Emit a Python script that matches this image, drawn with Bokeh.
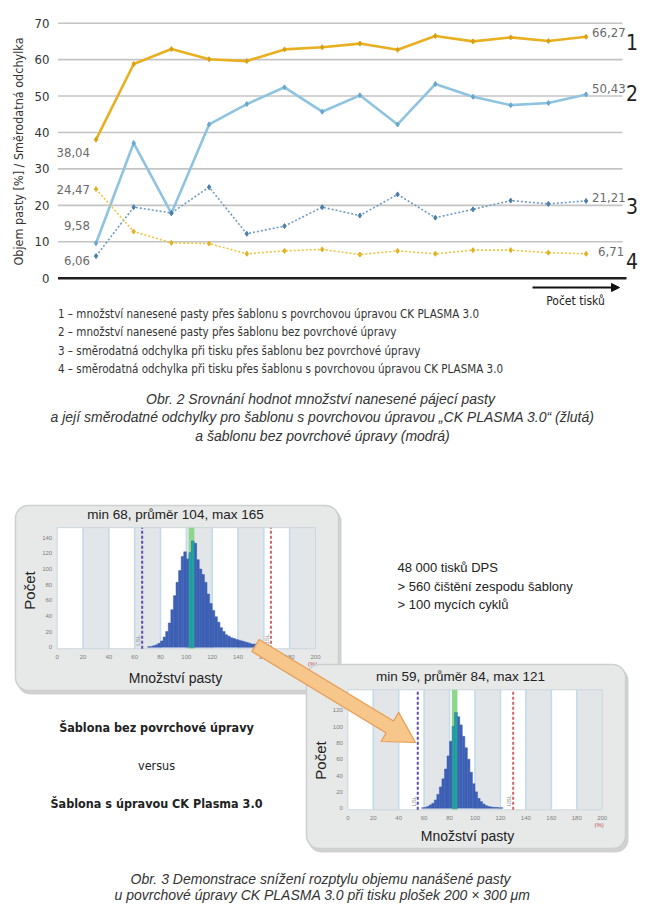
import math
from bokeh.plotting import figure
from bokeh.models import Range1d, Arrow, NormalHead
from bokeh.core.properties import value
from bokeh.embed import file_html
from bokeh.resources import INLINE

# ---------------- data ----------------
prints = list(range(14))
s1_plasma_volume = [38.04, 58.8, 62.9, 60.1, 59.6, 62.8, 63.4, 64.4, 62.7, 66.5, 65.0, 66.1, 65.1, 66.27]
s2_plain_volume = [9.58, 37.1, 17.8, 42.2, 47.8, 52.4, 45.7, 50.2, 42.2, 53.3, 49.8, 47.5, 48.1, 50.43]
s3_plain_std = [6.06, 19.5, 17.9, 25.0, 12.2, 14.3, 19.5, 17.2, 23.0, 16.6, 18.9, 21.3, 20.4, 21.21]
s4_plasma_std = [24.47, 12.8, 9.7, 9.5, 6.7, 7.5, 7.9, 6.5, 7.5, 6.7, 7.7, 7.7, 7.0, 6.71]
y_ticks = [0, 10, 20, 30, 40, 50, 60, 70]
series_numbers = ["1", "2", "3", "4"]
y_axis_title = "Objem pasty [%] / Směrodatná odchylka"
x_axis_title = "Počet tisků"

legend_lines = [
    "1 – množství nanesené pasty přes šablonu s povrchovou úpravou CK PLASMA 3.0",
    "2 – množství nanesené pasty přes šablonu bez povrchové úpravy",
    "3 – směrodatná odchylka při tisku přes šablonu bez povrchové úpravy",
    "4 – směrodatná odchylka při tisku přes šablonu s povrchovou úpravou CK PLASMA 3.0",
]
caption2 = [
    "Obr. 2  Srovnání hodnot množství nanesené pájecí pasty",
    "a její směrodatné odchylky pro šablonu s povrchovou úpravou „CK PLASMA 3.0“ (žlutá)",
    "a šablonu bez povrchové úpravy (modrá)",
]
caption3 = [
    "Obr. 3  Demonstrace snížení rozptylu objemu nanášené pasty",
    "u povrchové úpravy CK PLASMA 3.0 při tisku plošek 200 × 300 μm",
]
info_lines = ["48 000 tisků DPS", "> 560 čištění zespodu šablony", "> 100 mycích cyklů"]
compare_lines = ["Šablona bez povrchové úpravy", "versus", "Šablona s úpravou CK Plasma 3.0"]

# histogram 1 (stencil without treatment): bins of width 2 starting at 70
h1_start = 70
h1_width = 2
h1_counts = [0.5, 1, 2, 3, 5, 8, 13, 20, 31, 48, 66, 83, 98, 116, 122, 113, 121, 136, 133, 112,
             100, 93, 83, 68, 56, 47, 39, 32, 25, 20, 16, 14, 12, 11, 10, 9, 8, 7, 6, 5,
             4, 4, 3, 3, 2, 2, 1, 1]
h1_stats = dict(min=68, mean=104, max=165, lsl=65.8, usl=165.5)
h1_yticks = [0, 20, 40, 60, 80, 100, 120, 140]

# histogram 2 (CK Plasma 3.0): bins of width 2 starting at 58
h2_start = 58
h2_width = 2
h2_counts = [0.5, 1, 2, 4, 6, 10, 17, 26, 36, 48, 64, 82, 100, 117, 112, 102, 88, 74, 60, 44,
             30, 20, 12, 8, 5, 3, 2, 1.5, 1, 1, 0.5, 0.5]
h2_stats = dict(min=59, mean=84, max=121, lsl=55, usl=130)
h2_yticks = [0, 20, 40, 60, 80, 100, 120]
hist_xticks = [0, 20, 40, 60, 80, 100, 120, 140, 160, 180, 200]

# ---------------- styles / layout (picture pixels) ----------------
NARROW = "'DejaVu Sans Condensed', 'Liberation Sans', sans-serif"
SANS = "Liberation Sans"
PAGE_L, PAGE_R, PAGE_T, PAGE_B = 0, 644, 0, 908
X0, DX = 95.5, 37.7          # x of first print, spacing between prints
Y0, DY10 = 277.7, 36.43      # y of value 0, px per 10 units


def fmt(v):
    return f"{v:.2f}".replace(".", ",")


q = figure(width=PAGE_R - PAGE_L, height=PAGE_B - PAGE_T, output_backend="svg", toolbar_location=None,
           x_range=Range1d(PAGE_L, PAGE_R), y_range=Range1d(PAGE_B, PAGE_T),
           x_axis_location=None, y_axis_location=None,
           min_border_left=0, min_border_right=0, min_border_top=0, min_border_bottom=0)
q.outline_line_color = None
q.grid.visible = False
q.background_fill_color = "white"
q.border_fill_color = "white"


def add_range(name, a_page, a_val, b_page, b_val, axis):
    if axis == "x":
        lo, hi = PAGE_L, PAGE_R
    else:
        lo, hi = PAGE_B, PAGE_T
    sc = (b_val - a_val) / (b_page - a_page)
    r = Range1d(a_val + (lo - a_page) * sc, a_val + (hi - a_page) * sc)
    if axis == "x":
        q.extra_x_ranges[name] = r
    else:
        q.extra_y_ranges[name] = r


def txt(x, y, s, size, font=SANS, style="normal", color="#222222", align="left", angle=0.0):
    q.text([x], [y], text=[s], text_font=value(font), text_font_size=size, text_font_style=style,
           text_color=color, text_align=align, text_baseline="middle", angle=angle)


# ---------------- line chart (Obr. 2) ----------------
add_range("cx", X0, 0, X0 + DX, 1, "x")
add_range("cy", Y0, 0, Y0 - DY10, 10, "y")
cyk = dict(y_range_name="cy")
ck = dict(x_range_name="cx", y_range_name="cy")

gy = [t for t in y_ticks if t > 0]
q.segment(x0=[57.5] * len(gy), x1=[622] * len(gy), y0=gy, y1=gy, line_color="#c4c4c4",
          line_width=1.6, **cyk)
q.segment(x0=[57.5], x1=[626], y0=[0], y1=[0], line_color="#1e1e1e", line_width=2.6, **cyk)
q.text([49] * len(y_ticks), y_ticks, text=[str(t) for t in y_ticks], text_font=value(NARROW),
       text_font_size="13px", text_color="#333333", text_align="right", text_baseline="middle", **cyk)
txt(18, 151, y_axis_title, "12.5px", NARROW, color="#333333", align="center", angle=math.pi / 2)

series = [
    (s1_plasma_volume, "#e8b020", "#d9a012", 2.6, "solid"),
    (s2_plain_volume, "#8ec4e0", "#6aa6cc", 2.6, "solid"),
    (s3_plain_std, "#6f9bc2", "#4d7ea8", 1.6, "2 2"),
    (s4_plasma_std, "#f0c43c", "#e2b020", 1.6, "2 2"),
]
for vals, lc, mc, lw, dash in series:
    q.line(prints, vals, line_color=lc, line_width=lw, line_dash=dash, **ck)
    q.scatter(prints, vals, marker="diamond", size=5, fill_color=mc, line_color=mc, **ck)

left_offsets = [(-6, 13), (-6, -18), (-6, 4), (-6, 0)]
right_offsets = [(6, -4), (6, -6), (6, -3), (12, -2)]
number_offsets = [(46, 5), (46, -1), (46, 5), (46, 7)]
for k, (vals, *_rest) in enumerate(series):
    q.text([prints[0]], [vals[0]], text=[fmt(vals[0])], text_font=value(NARROW),
           text_font_size="13px", text_color="#6a6a6a", text_align="right",
           text_baseline="middle", x_offset=left_offsets[k][0], y_offset=left_offsets[k][1], **ck)
    q.text([prints[-1]], [vals[-1]], text=[fmt(vals[-1])], text_font=value(NARROW),
           text_font_size="13px", text_color="#6a6a6a", text_align="left",
           text_baseline="middle", x_offset=right_offsets[k][0], y_offset=right_offsets[k][1], **ck)
    q.text([prints[-1]], [vals[-1]], text=[series_numbers[k]], text_font=value(NARROW),
           text_font_size="21px", text_color="#222222", text_align="center",
           text_baseline="middle", x_offset=number_offsets[k][0], y_offset=number_offsets[k][1], **ck)

q.add_layout(Arrow(x_start=532, y_start=287, x_end=619, y_end=287, line_width=2, line_color="#111111",
                   end=NormalHead(size=8, fill_color="#111111", line_color="#111111")))
txt(575, 300, x_axis_title, "12px", NARROW, color="#222222", align="center")

for i, line in enumerate(legend_lines):
    txt(57.5, 313 + i * 18.5, line, "11.5px", NARROW, color="#333333")

for i, line in enumerate(caption2):
    txt(322, 398 + i * 18.5, line, "14px", SANS, style="italic", color="#333333", align="center")


# ---------------- histograms (Obr. 3) ----------------
def panel(l, r, t, b):
    q.quad(left=[l + 2], right=[r + 3], top=[t + 3], bottom=[b + 4], fill_color="#9a9a9a",
           fill_alpha=0.45, line_color=None, border_radius=13)
    q.quad(left=[l], right=[r], top=[t], bottom=[b], fill_color="#e7e9e9",
           line_color="#cdd0d0", line_width=1.5, border_radius=13)


def hist(tag, start, width, counts, stats, yticks, area_top, xr_pages, yr_pages, tick_off):
    rx, ry = tag + "x", tag + "y"
    add_range(rx, xr_pages[0], 0, xr_pages[1], 200, "x")
    add_range(ry, yr_pages[0], 0, yr_pages[1], yticks[-1], "y")
    kw = dict(x_range_name=rx, y_range_name=ry)
    lefts = hist_xticks[:-1]
    q.quad(left=lefts, right=[v + 20 for v in lefts], bottom=[-2] * len(lefts), top=[area_top] * len(lefts),
           fill_color=["#ffffff" if k % 2 == 0 else "#e3e6e9" for k in range(len(lefts))],
           line_color=None, **kw)
    inner = hist_xticks[1:-1]
    q.segment(x0=inner, x1=inner, y0=[-2] * len(inner), y1=[area_top] * len(inner),
              line_color="#c3dbeb", line_width=1.6, **kw)
    q.quad(left=[0], right=[200], bottom=[-2], top=[area_top], fill_color=None,
           line_color="#cbd6de", line_width=1, **kw)
    m = stats["mean"]
    q.quad(left=[m - 2.2], right=[m + 2.2], bottom=[-2], top=[area_top], fill_color="#8fd68d",
           line_color=None, **kw)
    bl = [start + i * width for i in range(len(counts))]
    br = [v + width for v in bl]
    q.quad(left=bl, right=br, bottom=[0] * len(counts), top=counts, fill_color="#3d5fb4",
           line_color="#3d5fb4", line_width=0.5, **kw)
    sel = [i for i in range(len(counts)) if br[i] > m - 2.2 and bl[i] < m + 2.2]
    q.quad(left=[max(bl[i], m - 2.2) for i in sel], right=[min(br[i], m + 2.2) for i in sel],
           bottom=[0] * len(sel), top=[counts[i] for i in sel], fill_color="#22a39e",
           line_color=None, **kw)
    q.segment(x0=[stats["lsl"]], x1=[stats["lsl"]], y0=[-2], y1=[area_top], line_color="#5b4fb3",
              line_width=2, line_dash="3 2", **kw)
    q.segment(x0=[stats["usl"]], x1=[stats["usl"]], y0=[-2], y1=[area_top], line_color="#d4676a",
              line_width=2, line_dash="3 2", **kw)
    q.text([stats["lsl"], stats["usl"]], [2, 2], text=["LSL", "USL"], text_font=value(SANS),
           text_font_size="6px", text_color="#8a8a8a", angle=math.pi / 2, text_baseline="bottom",
           x_offset=-1, **kw)
    q.text([0] * len(yticks), yticks, text=[str(v) for v in yticks], text_font=value(SANS),
           text_font_size="6px", text_color="#7d7d7d", text_align="right", text_baseline="middle",
           x_offset=-5, **kw)
    q.text(hist_xticks, [0] * len(hist_xticks), text=[str(v) for v in hist_xticks], text_font=value(SANS),
           text_font_size="6px", text_color="#7d7d7d", text_align="center", text_baseline="middle",
           y_offset=tick_off, **kw)
    q.text([200], [0], text=["(%)"], text_font=value(SANS), text_font_size="6px", text_color="#c05050",
           text_align="center", text_baseline="middle", y_offset=tick_off + 7, x_offset=-3, **kw)


panel(15, 338, 505, 690)
hist("h1", h1_start, h1_width, h1_counts, h1_stats, h1_yticks, 153, (56.7, 315), (646.7, 537.3), 10)
txt(175, 514, f"min {h1_stats['min']}, průměr {h1_stats['mean']}, max {h1_stats['max']}", "13.5px",
    align="center")
txt(175, 677, "Množství pasty", "14px", align="center")
txt(29, 590, "Počet", "15px", align="center", angle=math.pi / 2)

panel(306, 625, 664, 848)
hist("h2", h2_start, h2_width, h2_counts, h2_stats, h2_yticks, 145, (347.3, 601.7), (807.7, 709.7), 10)
txt(460, 676, f"min {h2_stats['min']}, průměr {h2_stats['mean']}, max {h2_stats['max']}", "13.5px",
    align="center")
txt(467, 835, "Množství pasty", "14px", align="center")
txt(320, 760, "Počet", "15px", align="center", angle=math.pi / 2)

# big orange arrow from histogram 1 to histogram 2
S = (255.0, 645.0)
E = (415.0, 742.0)
L = math.hypot(E[0] - S[0], E[1] - S[1])
d = ((E[0] - S[0]) / L, (E[1] - S[1]) / L)
n = (-d[1], d[0])
w, hw, hl = 7.0, 17.0, 30.0
H = (E[0] - d[0] * hl, E[1] - d[1] * hl)
pts = [
    (S[0] + n[0] * w, S[1] + n[1] * w), (H[0] + n[0] * w, H[1] + n[1] * w),
    (H[0] + n[0] * hw, H[1] + n[1] * hw), E,
    (H[0] - n[0] * hw, H[1] - n[1] * hw), (H[0] - n[0] * w, H[1] - n[1] * w),
    (S[0] - n[0] * w, S[1] - n[1] * w),
]
q.patch([pt[0] for pt in pts], [pt[1] for pt in pts], fill_color="#f7c68a", line_color="#e59d55",
        line_width=1.2)

for i, line in enumerate(info_lines):
    txt(397, 567 + i * 18.5, line, "13px", SANS, color="#222222")

for i, line in enumerate(compare_lines):
    style = "normal" if line == "versus" else "bold"
    txt(156, 727 + i * 38, line, "12.5px", NARROW, style=style, color="#222222", align="center")

for i, line in enumerate(caption3):
    txt(322, 878 + i * 16.5, line, "14px", SANS, style="italic", color="#333333", align="center")

open("out.html", "w").write(file_html(q, INLINE))
